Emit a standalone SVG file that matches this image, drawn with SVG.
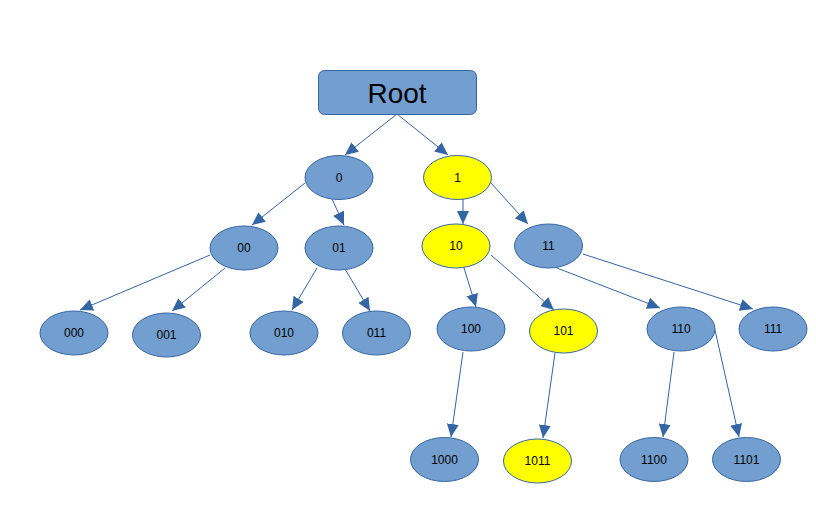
<svg xmlns="http://www.w3.org/2000/svg" width="816" height="509" viewBox="0 0 816 509">
<style>
.n{fill:#729fcf;stroke:#3465a4;stroke-width:1}
.y{fill:#ffff00;stroke:#3465a4;stroke-width:1}
.t{font-family:"Liberation Sans",Arial,sans-serif;font-size:12px;fill:#000;text-anchor:middle;dominant-baseline:central}
.c line{stroke:#3465a4;stroke-width:1}
</style>
<defs>
<marker id="a" markerUnits="userSpaceOnUse" markerWidth="14" markerHeight="12" viewBox="0 0 14 12" refX="13" refY="6" orient="auto">
<path d="M0,0 L13,6 L0,12 Z" fill="#3465a4"/>
</marker>
</defs>
<rect width="816" height="509" fill="#fff"/>
<g class="c" id="connectors">
<line x1="397" y1="114" x2="345" y2="155" marker-end="url(#a)"/>
<line x1="397" y1="114" x2="448" y2="155" marker-end="url(#a)"/>
<line x1="305" y1="183" x2="252" y2="225" marker-end="url(#a)"/>
<line x1="332" y1="199" x2="344" y2="225" marker-end="url(#a)"/>
<line x1="210" y1="255" x2="80" y2="310" marker-end="url(#a)"/>
<line x1="225" y1="268" x2="172" y2="311" marker-end="url(#a)"/>
<line x1="317" y1="268" x2="292" y2="310" marker-end="url(#a)"/>
<line x1="345" y1="269" x2="370" y2="311" marker-end="url(#a)"/>
<line x1="463" y1="199" x2="463" y2="224" marker-end="url(#a)"/>
<line x1="491" y1="183" x2="528" y2="224" marker-end="url(#a)"/>
<line x1="464" y1="268" x2="476" y2="307" marker-end="url(#a)"/>
<line x1="491" y1="255" x2="554" y2="310" marker-end="url(#a)"/>
<line x1="557" y1="268" x2="660" y2="308" marker-end="url(#a)"/>
<line x1="583" y1="254" x2="753" y2="309" marker-end="url(#a)"/>
<line x1="463" y1="352" x2="451" y2="437" marker-end="url(#a)"/>
<line x1="555" y1="353" x2="543" y2="438" marker-end="url(#a)"/>
<line x1="674" y1="352" x2="663" y2="437" marker-end="url(#a)"/>
<line x1="715" y1="330" x2="739" y2="437" marker-end="url(#a)"/>
</g>
<g id="root"><rect class="n" x="318.5" y="70.5" width="158" height="44" rx="6"/><text class="t" x="397" y="93" style="font-size:28px">Root</text></g>
<g id="n0"><ellipse class="n" cx="339" cy="177.5" rx="34" ry="22"/><text class="t" x="339" y="177.5">0</text></g>
<g id="n1"><ellipse class="y" cx="457.5" cy="177.5" rx="34" ry="22"/><text class="t" x="457.5" y="177.5">1</text></g>
<g id="n00"><ellipse class="n" cx="244" cy="248" rx="34" ry="22"/><text class="t" x="244" y="248">00</text></g>
<g id="n01"><ellipse class="n" cx="339" cy="248" rx="34" ry="22"/><text class="t" x="339" y="248">01</text></g>
<g id="n10"><ellipse class="y" cx="456" cy="246" rx="34" ry="22"/><text class="t" x="456" y="246">10</text></g>
<g id="n11"><ellipse class="n" cx="548.5" cy="246" rx="34" ry="22"/><text class="t" x="548.5" y="246">11</text></g>
<g id="n000"><ellipse class="n" cx="74" cy="333" rx="34" ry="22"/><text class="t" x="74" y="333">000</text></g>
<g id="n001"><ellipse class="n" cx="166.5" cy="335" rx="34" ry="22"/><text class="t" x="166.5" y="335">001</text></g>
<g id="n010"><ellipse class="n" cx="284" cy="333" rx="34" ry="22"/><text class="t" x="284" y="333">010</text></g>
<g id="n011"><ellipse class="n" cx="376.5" cy="333" rx="34" ry="22"/><text class="t" x="376.5" y="333">011</text></g>
<g id="n100"><ellipse class="n" cx="471" cy="329" rx="34" ry="22"/><text class="t" x="471" y="329">100</text></g>
<g id="n101"><ellipse class="y" cx="563.5" cy="331" rx="34" ry="22"/><text class="t" x="563.5" y="331">101</text></g>
<g id="n110"><ellipse class="n" cx="681" cy="329" rx="34" ry="22"/><text class="t" x="681" y="329">110</text></g>
<g id="n111"><ellipse class="n" cx="773" cy="329" rx="34" ry="22"/><text class="t" x="773" y="329">111</text></g>
<g id="n1000"><ellipse class="n" cx="444.5" cy="459.5" rx="34" ry="22"/><text class="t" x="444.5" y="459.5">1000</text></g>
<g id="n1011"><ellipse class="y" cx="537.5" cy="461" rx="34" ry="22"/><text class="t" x="537.5" y="461">1011</text></g>
<g id="n1100"><ellipse class="n" cx="654" cy="459.5" rx="34" ry="22"/><text class="t" x="654" y="459.5">1100</text></g>
<g id="n1101"><ellipse class="n" cx="746.5" cy="459.5" rx="34" ry="22"/><text class="t" x="746.5" y="459.5">1101</text></g>
</svg>
